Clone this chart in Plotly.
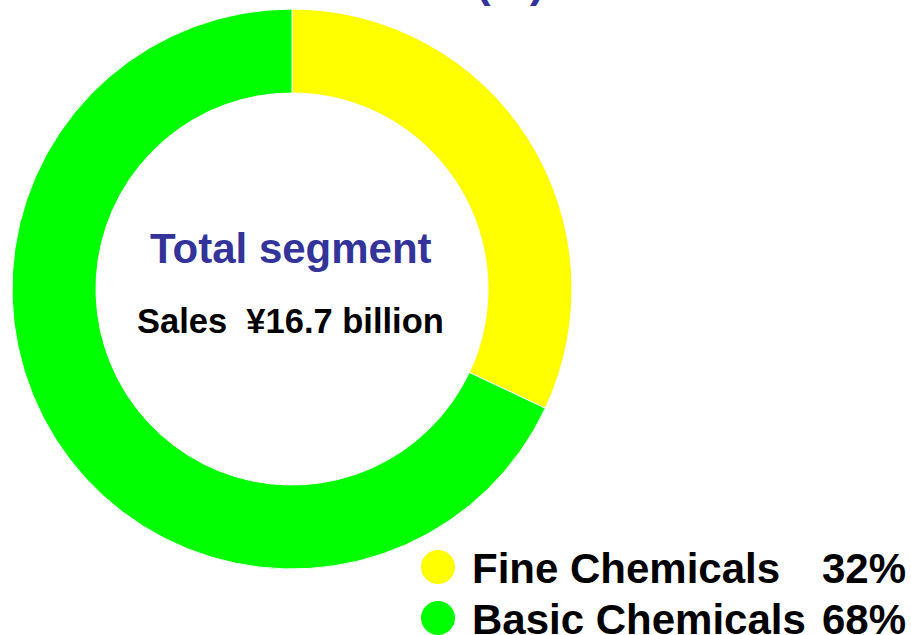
import plotly.graph_objects as go

W, H = 911, 635
segments = ["Fine Chemicals", "Basic Chemicals"]
shares = [32, 68]
colors = ["#FFFF00", "#00FF00"]
center_title = "Total segment"
center_sub = "Sales  ¥16.7 billion"
top_title = "(%)"

def px(x):
    return x / W

def py(y):
    return 1 - y / H

fig = go.Figure()
fig.add_trace(go.Pie(
    labels=segments, values=shares, sort=False, direction="clockwise", rotation=0,
    hole=0.70, textinfo="none", hoverinfo="label+percent",
    marker=dict(colors=colors, line=dict(color="#FFFFFF", width=1)),
    domain=dict(x=[px(12), px(572)], y=[py(569), py(9)]),
    showlegend=False,
))

font_b = "Liberation Sans, Arial, sans-serif"
ann = []
ann.append(dict(text=f"<b>{center_title}</b>", x=px(291), y=py(249), xref="paper", yref="paper",
                xanchor="center", yanchor="middle", showarrow=False,
                font=dict(family=font_b, size=42, color="#333399")))
ann.append(dict(text=f"<b>{center_sub}</b>", x=px(290), y=py(321), xref="paper", yref="paper",
                xanchor="center", yanchor="middle", showarrow=False,
                font=dict(family=font_b, size=34.5, color="#000000")))
ann.append(dict(text=f"<b>{top_title}</b>", x=px(510), y=py(8), xref="paper", yref="paper",
                xanchor="center", yanchor="bottom", showarrow=False,
                font=dict(family=font_b, size=44, color="#333399")))

row_y = [568, 619]
shapes = []
for i, (name, val) in enumerate(zip(segments, shares)):
    cy = row_y[i]
    shapes.append(dict(type="circle", xref="paper", yref="paper",
                       x0=px(438 - 17), x1=px(438 + 17), y0=py(cy - 1 + 17), y1=py(cy - 1 - 17),
                       fillcolor=colors[i], line=dict(width=0)))
    ann.append(dict(text=f"<b>{name}</b>", x=px(470), y=py(cy), xref="paper", yref="paper",
                    xanchor="left", yanchor="middle", showarrow=False,
                    font=dict(family=font_b, size=42, color="#000000")))
    ann.append(dict(text=f"<b>{val}%</b>", x=px(908), y=py(cy), xref="paper", yref="paper",
                    xanchor="right", yanchor="middle", showarrow=False,
                    font=dict(family=font_b, size=42, color="#000000")))

fig.update_layout(width=W, height=H, margin=dict(l=0, r=0, t=0, b=0),
                  paper_bgcolor="white", plot_bgcolor="white",
                  annotations=ann, shapes=shapes)
fig.write_html("out.html")
